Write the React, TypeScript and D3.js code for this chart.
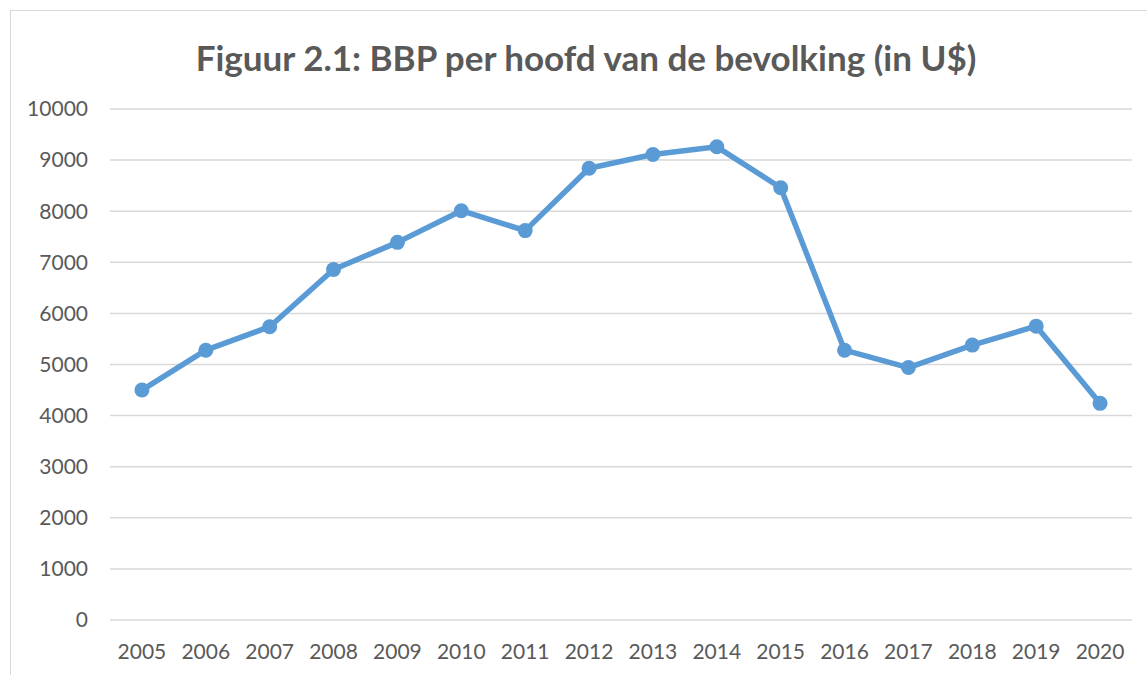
import * as d3 from "d3";
import { useEffect, useRef } from "react";

const years = ["2005", "2006", "2007", "2008", "2009", "2010", "2011", "2012", "2013", "2014", "2015", "2016", "2017", "2018", "2019", "2020"];
const gdp = [4500, 5280, 5740, 6860, 7390, 8010, 7620, 8840, 9110, 9260, 8460, 5280, 4940, 5380, 5750, 4240];
const yTicks = [0, 1000, 2000, 3000, 4000, 5000, 6000, 7000, 8000, 9000, 10000];
const title = "Figuur 2.1: BBP per hoofd van de bevolking (in U$)";

export default function App() {
  const svgRef = useRef<SVGSVGElement>(null);

  useEffect(() => {
    document.body.style.margin = "0";
    const W = 1147;
    const H = 675;
    const margin = { left: 110, right: 15, top: 109, bottom: 55 };
    const svg = d3.select(svgRef.current).attr("width", W).attr("height", H);
    svg.selectAll("*").remove();

    // outer chart frame
    svg
      .append("rect")
      .attr("x", 10.5)
      .attr("y", 10.5)
      .attr("width", W + 10)
      .attr("height", H + 10)
      .attr("fill", "white")
      .attr("stroke", "#d9d9d9");

    const x = d3
      .scaleBand()
      .domain(years)
      .range([margin.left, W - margin.right]);
    const y = d3
      .scaleLinear()
      .domain([0, 10000])
      .range([H - margin.bottom, margin.top]);

    // gridlines
    svg
      .append("g")
      .selectAll("line")
      .data(yTicks)
      .join("line")
      .attr("x1", margin.left)
      .attr("x2", W - margin.right)
      .attr("y1", (d) => y(d))
      .attr("y2", (d) => y(d))
      .attr("stroke", "#d9d9d9")
      .attr("stroke-width", 1.5);

    const font = "Lato, 'Open Sans', sans-serif";

    // y labels
    svg
      .append("g")
      .selectAll("text")
      .data(yTicks)
      .join("text")
      .attr("x", 88)
      .attr("y", (d) => y(d))
      .attr("dy", "0.35em")
      .attr("text-anchor", "end")
      .attr("font-family", font)
      .attr("font-size", 21)
      .attr("fill", "#595959")
      .text((d) => d);

    // x labels
    svg
      .append("g")
      .selectAll("text")
      .data(years)
      .join("text")
      .attr("x", (d) => x(d)! + x.bandwidth() / 2)
      .attr("y", 659)
      .attr("text-anchor", "middle")
      .attr("font-family", font)
      .attr("font-size", 21)
      .attr("fill", "#595959")
      .text((d) => d);

    const pts = years.map((yr, i) => [x(yr)! + x.bandwidth() / 2, y(gdp[i])] as [number, number]);

    svg
      .append("path")
      .datum(pts)
      .attr("d", d3.line())
      .attr("fill", "none")
      .attr("stroke", "#5b9bd5")
      .attr("stroke-width", 5.5)
      .attr("stroke-linejoin", "round");

    svg
      .append("g")
      .selectAll("circle")
      .data(pts)
      .join("circle")
      .attr("cx", (d) => d[0])
      .attr("cy", (d) => d[1])
      .attr("r", 7.5)
      .attr("fill", "#5b9bd5");

    svg
      .append("text")
      .attr("x", 586)
      .attr("y", 71)
      .attr("text-anchor", "middle")
      .attr("font-family", font)
      .attr("font-weight", "bold")
      .attr("font-size", 35)
      .attr("fill", "#595959")
      .text(title);
  }, []);

  return <svg ref={svgRef} style={{ display: "block" }}></svg>;
}
